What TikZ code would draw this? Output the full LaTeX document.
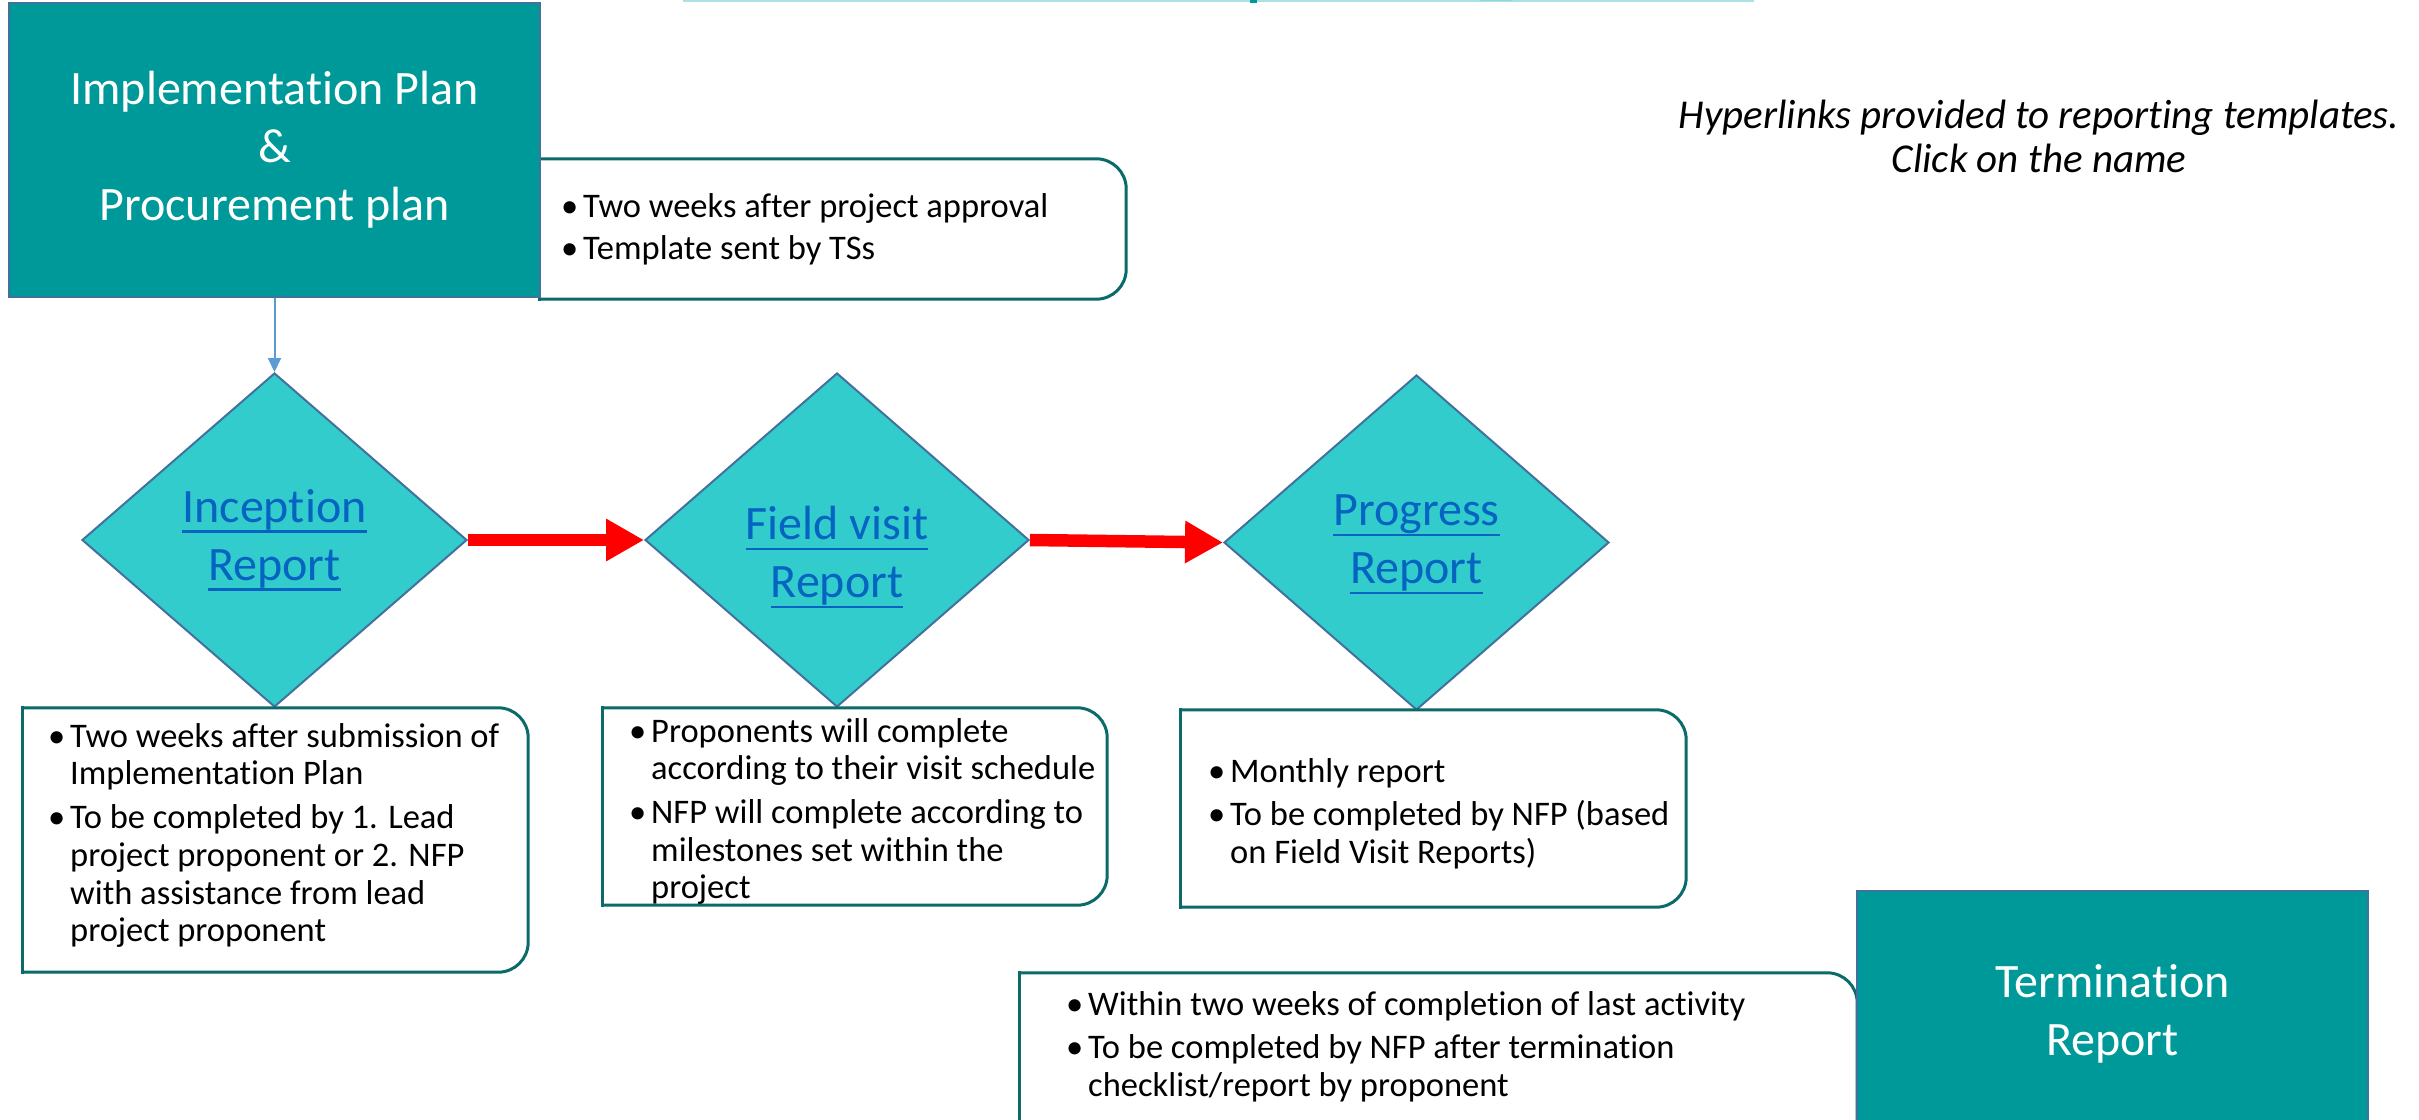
\documentclass[tikz,border=0pt]{standalone}
\usepackage{fontspec}
\setmainfont[Ligatures=NoCommon]{Carlito}
\usetikzlibrary{shapes.geometric,arrows.meta,calc}

\definecolor{tealbox}{HTML}{009999}
\definecolor{diamondfill}{HTML}{33CCCC}
\definecolor{edgeblue}{HTML}{41719C}
\definecolor{noteedge}{HTML}{0B6B6B}
\definecolor{linkblue}{HTML}{0563C1}
\definecolor{feedblue}{HTML}{5B9BD5}
\definecolor{titleedge}{HTML}{A9E2E2}

% underline at a fixed depth, crossing descenders like a hyperlink
\newcommand\linkul[1]{\setbox0=\hbox{#1}\rlap{\rule[-11pt]{\wd0}{2.6pt}}\box0}
\newcommand\bitem{\makebox[22pt][l]{•}}
\newcommand\bcont{\hspace*{22pt}}
\newcommand\firstline{\rule{0pt}{28pt}}

\begin{document}
\begin{tikzpicture}[x=1pt,y=-1pt,
  mainbox/.style={rectangle, fill=tealbox, draw=edgeblue, line width=2pt,
    text=white, align=center, inner sep=0pt,
    font=\fontsize{48}{58}\selectfont},
  decision/.style={diamond, fill=diamondfill, draw=edgeblue, line width=2pt,
    inner sep=0pt},
  linklabel/.style={text=linkblue, align=center, inner sep=0pt,
    font=\fontsize{48}{58}\selectfont},
  notearea/.style={rectangle, inner sep=0pt},
  noteline/.style={draw=noteedge, line width=3pt, rounded corners=30pt},
  noteside/.style={draw=noteedge, line width=3pt, line cap=rect},
  notetext/.style={anchor=north west, inner sep=0pt, align=left,
    font=\fontsize{34.5}{37.6}\selectfont},
  flow/.style={draw=red, line width=12.5pt,
    -{Triangle[length=38pt,width=40pt]}},
  feed/.style={draw=feedblue, line width=2pt,
    -{Triangle[length=14pt,width=13pt]}},
]
\useasboundingbox (0,0) rectangle (2419,1119);
\clip (0,0) rectangle (2419,1119);
\fill[white] (0,0) rectangle (2419,1119);

% lower edge of the title banner above
\draw[titleedge, line width=2.5pt] (683,0.5) -- (1754,0.5);
\fill[tealbox] (1250,0) rectangle (1257,3);
\fill[tealbox] (1480,0) arc[start angle=180,end angle=360,x radius=16pt,y radius=-3.5pt] -- cycle;

% note beside the implementation plan
\node[notearea, minimum width=586pt, minimum height=140pt] (N0) at (833,229) {};
\draw[noteline] (N0.north west) -- (N0.north east) -- (N0.south east) -- (N0.south west);
\draw[noteside] (N0.north west) -- (N0.south west);
\node[notetext] (T0) at (561,189) {\firstline\bitem Two weeks after project approval\\[5pt]
  \bitem Template sent by TSs};

% implementation plan box
\node[mainbox, minimum width=531pt, minimum height=294pt] (impl) at (274.5,150)
  {Implementation Plan\\\&\\Procurement plan};

% decisions
\node[decision, minimum width=385pt, minimum height=334pt] (D1) at (274.5,540) {};
\node[decision, minimum width=384pt, minimum height=334pt] (D2) at (837,540) {};
\node[decision, minimum width=385pt, minimum height=335pt] (D3) at (1416.5,542.5) {};
\node[linklabel] (L1) at (D1.center) {\linkul{Inception}\\\linkul{Report}};
\node[linklabel] (L2) at ($(D2.center)+(0,17)$) {\linkul{Field visit}\\\linkul{Report}};
\node[linklabel] (L3) at ($(D3.center)+(0,2)$) {\linkul{Progress}\\\linkul{Report}};

% connectors
\draw[feed] (impl.south) -- (D1.north);
\draw[flow] (D1.east) -- (D2.west);
\draw[flow] (D2.east) -- (D3.west);

% notes under the decisions
\node[notearea, minimum width=505pt, minimum height=264pt] (B1) at (275.5,840) {};
\draw[noteline] (B1.north west) -- (B1.north east) -- (B1.south east) -- (B1.south west);
\draw[noteside] (B1.north west) -- (B1.south west);
\node[notetext] (T1) at (48,719) {\firstline\bitem Two weeks after submission of\\
  \bcont Implementation Plan\\[6.5pt]
  \bitem To be completed by 1. Lead\\
  \bcont project proponent or 2. NFP\\
  \bcont with assistance from lead\\
  \bcont project proponent};

\node[notearea, minimum width=504pt, minimum height=197pt] (B2) at (855,806.5) {};
\draw[noteline] (B2.north west) -- (B2.north east) -- (B2.south east) -- (B2.south west);
\draw[noteside] (B2.north west) -- (B2.south west);
\node[notetext] (T2) at (629,714) {\firstline\bitem Proponents will complete\\
  \bcont according to their visit schedule\\[6pt]
  \bitem NFP will complete according to\\
  \bcont milestones set within the\\
  \bcont project};

\node[notearea, minimum width=505pt, minimum height=197pt] (B3) at (1433.5,808.5) {};
\draw[noteline] (B3.north west) -- (B3.north east) -- (B3.south east) -- (B3.south west);
\draw[noteside] (B3.north west) -- (B3.south west);
\node[notetext] (T3) at (1208,754) {\firstline\bitem Monthly report\\[6pt]
  \bitem To be completed by NFP (based\\
  \bcont on Field Visit Reports)};

% termination note and box
\node[notearea, minimum width=837pt, minimum height=177pt] (B4) at (1438.5,1061.5) {};
\draw[noteline] (B4.north west) -- (B4.north east) -- (B4.south east) -- (B4.south west);
\draw[noteside] (B4.north west) -- (B4.south west);
\node[notetext] (T4) at (1066,987) {\firstline\bitem Within two weeks of completion of last activity\\[6pt]
  \bitem To be completed by NFP after termination\\
  \bcont checklist/report by proponent};

\node[mainbox, minimum width=511pt, minimum height=245pt] (term) at (2112.5,1013.5)
  {Termination\\Report};

% remark
\node[anchor=north, align=center, inner sep=0pt,
  font=\fontsize{41}{44}\selectfont\itshape] (remark) at (2039,98)
  {\rule{0pt}{30pt}Hyperlinks provided to reporting templates.\\Click on the name};
\end{tikzpicture}
\end{document}
